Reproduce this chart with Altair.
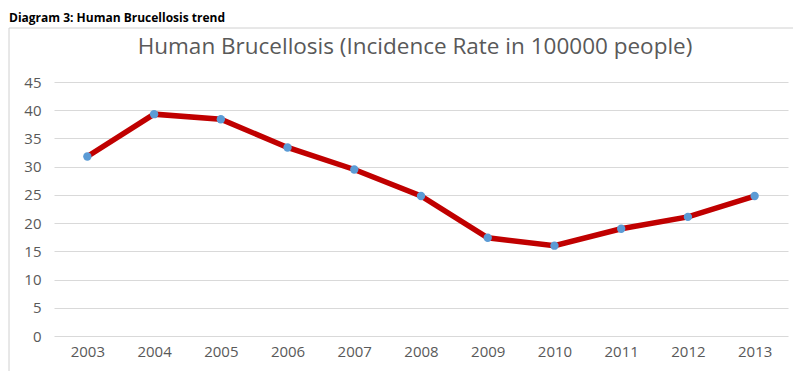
import altair as alt
import pandas as pd

years = ["2003", "2004", "2005", "2006", "2007", "2008", "2009", "2010", "2011", "2012", "2013"]
rates = [31.8, 39.3, 38.4, 33.4, 29.5, 24.8, 17.4, 16.0, 19.0, 21.1, 24.8]
y_ticks = [0, 5, 10, 15, 20, 25, 30, 35, 40, 45]

df = pd.DataFrame({"year": years, "rate": rates})

W, H = 734, 254
FONT = "Open Sans"
GRAY = "#595959"

base = alt.Chart(df).encode(
    x=alt.X("year:O", sort=years, title=None,
            scale=alt.Scale(type="point", padding=0.5),
            axis=alt.Axis(labelAngle=0, domain=False, ticks=False, grid=False,
                          labelColor=GRAY, labelFont=FONT, labelFontSize=15,
                          labelPadding=8)),
    y=alt.Y("rate:Q", title=None,
            scale=alt.Scale(domain=[0, 45], nice=False, zero=True),
            axis=alt.Axis(values=y_ticks, domain=False, ticks=False,
                          gridColor="#d9d9d9", gridWidth=1,
                          labelColor=GRAY, labelFont=FONT, labelFontSize=15,
                          labelPadding=13)),
)

line = base.mark_line(color="#c00000", strokeWidth=5.5)
pts = base.mark_circle(color="#5b9bd5", size=70, opacity=1)

frame = alt.Chart(pd.DataFrame({"a": [0]})).mark_rect(
    fill=None, stroke="#d0d0d0", strokeWidth=1
).encode(x=alt.value(-45), x2=alt.value(745), y=alt.value(-54), y2=alt.value(294))

title = alt.Chart(pd.DataFrame({"t": ["Human Brucellosis (Incidence Rate in 100000 people)"]})).mark_text(
    font=FONT, fontSize=22.5, color=GRAY, align="center", baseline="middle"
).encode(text="t:N", x=alt.value(361), y=alt.value(-35))

heading = alt.Chart(pd.DataFrame({"t": ["Diagram 3: Human Brucellosis trend"]})).mark_text(
    font=FONT, fontSize=12, fontWeight="bold", color="#000000", align="left", baseline="top"
).encode(text="t:N", x=alt.value(-45), y=alt.value(-69))

chart = alt.layer(frame, line, pts, title, heading).properties(
    width=W, height=H,
    autosize=alt.AutoSizeParams(type="none"),
    padding={"left": 46, "top": 74, "right": 5, "bottom": 35},
).configure_view(stroke=None)

chart.save("out.html", embed_options={"renderer": "svg", "actions": False})
